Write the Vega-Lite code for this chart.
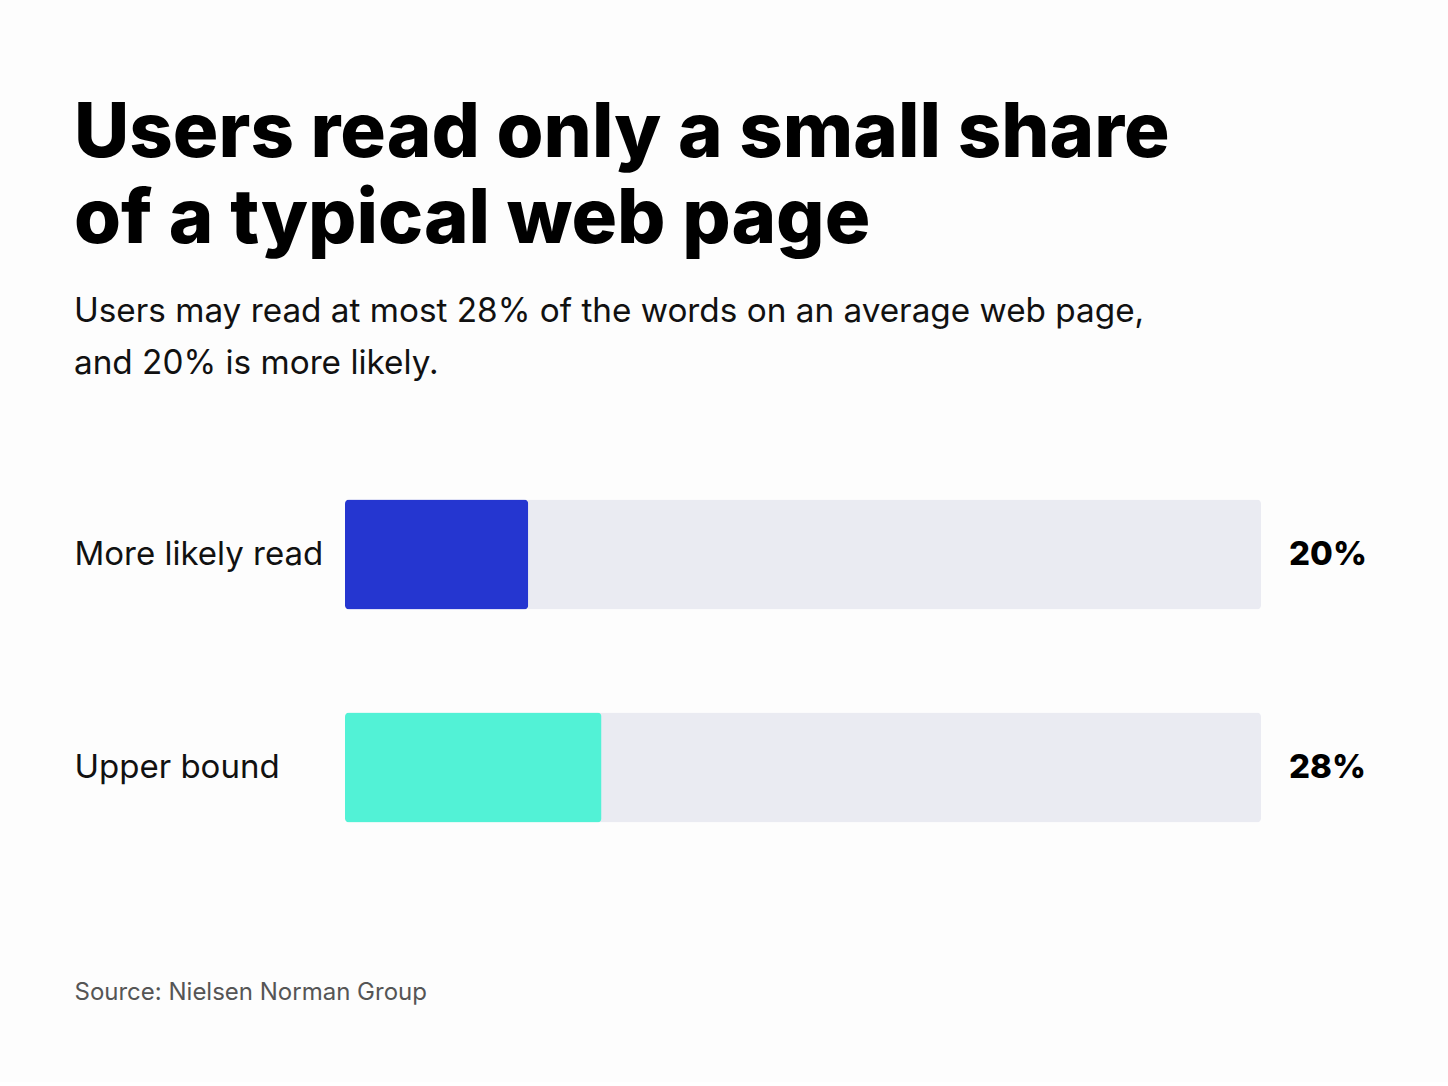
{
  "$schema": "https://vega.github.io/schema/vega-lite/v6.json",
  "width": 916,
  "height": 426,
  "padding": {"left": 74, "top": 95, "right": 82, "bottom": 78},
  "background": "#FDFDFD",
  "title": {
    "text": ["Users read only a small share", "of a typical web page"],
    "subtitle": ["Users may read at most 28% of the words on an average web page,", "and 20% is more likely."],
    "anchor": "start",
    "frame": "bounds",
    "font": "Inter",
    "fontSize": 76,
    "fontWeight": 800,
    "lineHeight": 86,
    "color": "#000000",
    "subtitleFont": "Inter",
    "subtitleFontSize": 33.3,
    "subtitleLineHeight": 52,
    "subtitleColor": "#111111",
    "subtitlePadding": 37,
    "offset": 67
  },
  "data": {
    "values": [
      {"label": "More likely read", "value": 20, "total": 100, "text": "20%"},
      {"label": "Upper bound", "value": 28, "total": 100, "text": "28%"}
    ]
  },
  "encoding": {
    "y": {
      "field": "label",
      "type": "nominal",
      "sort": null,
      "scale": {"paddingInner": 0, "paddingOuter": 0},
      "axis": {
        "title": null,
        "domain": false,
        "ticks": false,
        "labelAlign": "left",
        "labelPadding": 271,
        "labelFont": "Inter",
        "labelFontSize": 33,
        "labelColor": "#111111",
        "labelLimit": 400
      }
    }
  },
  "layer": [
    {
      "mark": {"type": "bar", "height": 110, "cornerRadius": 4, "color": "#EAEBF2"},
      "encoding": {
        "x": {
          "field": "total",
          "type": "quantitative",
          "scale": {"domain": [0, 100], "nice": false},
          "axis": {
            "labels": false,
            "ticks": false,
            "domain": false,
            "grid": false,
            "title": "Source: Nielsen Norman Group",
            "titleAnchor": "start",
            "titleAlign": "left",
            "titleX": -271,
            "titlePadding": 106,
            "titleFont": "Inter",
            "titleFontSize": 24,
            "titleFontWeight": "normal",
            "titleColor": "#555555"
          }
        }
      }
    },
    {
      "mark": {"type": "bar", "height": 110, "cornerRadius": 4},
      "encoding": {
        "x": {"field": "value", "type": "quantitative"},
        "color": {
          "field": "label",
          "type": "nominal",
          "scale": {"domain": ["More likely read", "Upper bound"], "range": ["#2536D0", "#52F2D6"]},
          "legend": null
        }
      }
    },
    {
      "mark": {"type": "text", "align": "left", "dx": 28, "font": "Inter", "fontSize": 33, "fontWeight": 800, "color": "#000000"},
      "encoding": {
        "x": {"field": "total", "type": "quantitative"},
        "text": {"field": "text"}
      }
    }
  ],
  "config": {"view": {"stroke": null}}
}
